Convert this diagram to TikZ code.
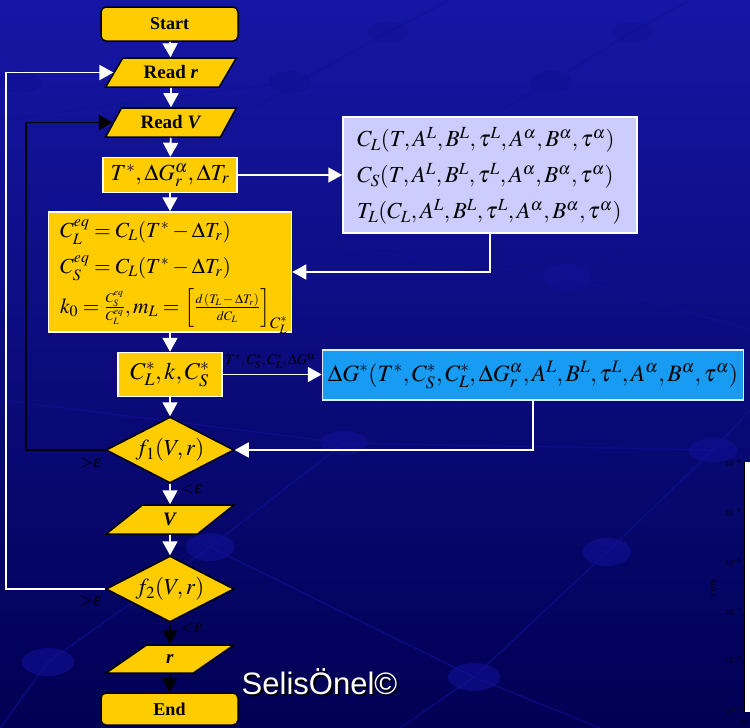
\documentclass[tikz,border=0pt]{standalone}
\usepackage{mathptmx}
\usepackage[no-math]{fontspec}
\setmainfont{Liberation Serif}
\newfontfamily\arialfont{Liberation Sans}
\usetikzlibrary{shapes.geometric,arrows.meta}
\definecolor{myyellow}{RGB}{255,204,0}
\definecolor{mylav}{RGB}{204,204,255}
\definecolor{myblue}{RGB}{24,155,242}
\definecolor{bgtop}{RGB}{22,22,165}
\definecolor{bgmid}{RGB}{8,8,122}
\definecolor{bgbot}{RGB}{0,0,84}
\definecolor{decor}{RGB}{16,16,150}
\newcommand{\smallpart}[1]{\hbox{\fontsize{13}{14}\selectfont$#1$}}
\tikzset{
  flowarrow/.style={draw=white, line width=1.8pt, -{Triangle[width=15pt,length=14pt]}},
  blackarrow/.style={draw=black, line width=1.8pt, -{Triangle[width=15pt,length=14pt]}},
  term/.style={rectangle, rounded corners=5pt, fill=myyellow, draw=black, line width=1.5pt,
    minimum width=137pt, minimum height=34pt, inner sep=0pt, font=\fontsize{18}{20}\selectfont\bfseries},
  iobox/.style={trapezium, trapezium left angle=54, trapezium right angle=126, trapezium stretches=true,
    fill=myyellow, draw=black, line width=1.5pt, minimum width=131pt, minimum height=29pt, inner sep=0pt,
    font=\fontsize{19}{20}\selectfont\bfseries},
  procbox/.style={rectangle, fill=myyellow, draw=white, line width=1.5pt, inner sep=0pt},
  decision/.style={diamond, aspect=2, fill=myyellow, draw=black, line width=1.5pt,
    minimum width=128pt, minimum height=66pt, inner sep=0pt, font=\fontsize{23}{24}\selectfont},
  mathtxt/.style={anchor=west, inner sep=0pt, font=\fontsize{21.5}{24}\selectfont},
  lavtxt/.style={anchor=west, inner sep=0pt, font=\fontsize{23}{24}\selectfont},
  epslabel/.style={inner sep=0pt, text=black, font=\fontsize{17}{18}\selectfont},
  decoell/.style={fill=decor, opacity=0.6},
  decoline/.style={draw=decor, line width=1.5pt, opacity=0.6},
}
\begin{document}
\begin{tikzpicture}[x=1pt,y=-1pt]
\useasboundingbox (0,0) rectangle (750,728);
% background
\shade[top color=bgtop, middle color=bgmid, bottom color=bgbot] (0,0) rectangle (750,728);
% decorative pattern
\draw[decoline] (250,110) -- (388,32) -- (450,0);
\draw[decoline] (500,110) -- (551,82) -- (632,32) -- (690,0);
\draw[decoline] (0,120) -- (290,82);
\draw[decoline] (200,230) -- (567,277) -- (750,330);
\draw[decoline] (567,277) -- (700,190);
\draw[decoline] (0,400) -- (344,443) -- (713,450);
\draw[decoline] (210,547) -- (344,443);
\draw[decoline] (0,728) -- (48,662) -- (210,547);
\draw[decoline] (400,728) -- (474,677) -- (607,552) -- (713,450) -- (750,410);
\draw[decoline] (210,547) -- (474,677) -- (600,728);
\fill[decoell] (388,32) ellipse (21pt and 10pt);
\fill[decoell] (632,32) ellipse (21pt and 10pt);
\fill[decoell] (551,82) ellipse (21pt and 11pt);
\fill[decoell] (290,82) ellipse (21pt and 11pt);
\fill[decoell] (20,82) ellipse (21pt and 11pt);
\fill[decoell] (72,200) ellipse (24pt and 12pt);
\fill[decoell] (567,277) ellipse (24pt and 13pt);
\fill[decoell] (344,443) ellipse (24pt and 12pt);
\fill[decoell] (713,450) ellipse (24pt and 12pt);
\fill[decoell] (210,547) ellipse (24pt and 14pt);
\fill[decoell] (607,552) ellipse (24pt and 14pt);
\fill[decoell] (48,662) ellipse (26pt and 14pt);
\fill[decoell] (474,677) ellipse (26pt and 14pt);
% partial plot at right edge
\fill[white] (744,462) rectangle (750,712);
\draw[black, line width=1pt] (744.5,462) -- (744.5,712);
\foreach \yy/\ee in {463/-4,512/-5,562/-6,612/-7,660/-8,710/-9}{
  \node[text=black, inner sep=0pt, font=\fontsize{8}{9}\selectfont] at (733,\yy) {10$^{\ee}$};
}
\node[text=black, inner sep=0pt, rotate=90, font=\fontsize{8}{9}\selectfont] at (713,588) {r (m)};
\node[text=black, inner sep=0pt, font=\fontsize{8}{9}\selectfont] at (743,723) {10};

% main nodes
\node[term] (start) at (169.5,24) {Start};
\node[iobox] (readr) at (171,72.5) {Read \textit{r}};
\node[iobox] (readv) at (171,122.5) {Read \textit{V}};
\node[procbox, minimum width=134pt, minimum height=35pt, font=\fontsize{23}{24}\selectfont] (tbox) at (170,175) {$T^*,\Delta G_r^\alpha,\Delta T_r$};
\node[procbox, minimum width=243pt, minimum height=120pt] (big) at (170,272) {};
\node[mathtxt] (eq1) at (60,232) {$C_L^{eq}=C_L(T^*-\Delta T_r)$};
\node[mathtxt] (eq2) at (60,268) {$C_S^{eq}=C_L(T^*-\Delta T_r)$};
\node[mathtxt] (eq3) at (60,311) {$k_0=\frac{\smallpart{C_S^{eq}}}{\smallpart{C_L^{eq}}},m_L=\left[\frac{\smallpart{d\,(T_L-\Delta T_r)}}{\smallpart{dC_L}}\right]_{C_L^*}$};
\node[procbox, minimum width=104pt, minimum height=44pt, font=\fontsize{24}{26}\selectfont] (cbox) at (170,374.5) {$C_L^*,k,C_S^*$};
\node[rectangle, fill=mylav, draw=white, line width=1.5pt, minimum width=294pt, minimum height=116pt, inner sep=0pt] (lav) at (490,175) {};
\node[lavtxt] (l1) at (357,140) {$C_L(T,A^L,B^L,\tau^L,A^\alpha,B^\alpha,\tau^\alpha)$};
\node[lavtxt] (l2) at (357,176) {$C_S(T,A^L,B^L,\tau^L,A^\alpha,B^\alpha,\tau^\alpha)$};
\node[lavtxt] (l3) at (357,212) {$T_L(C_L,A^L,B^L,\tau^L,A^\alpha,B^\alpha,\tau^\alpha)$};
\node[rectangle, fill=myblue, draw=white!85!myblue, line width=1.5pt, minimum width=421pt, minimum height=50pt, inner sep=0pt, font=\fontsize{23.5}{26}\selectfont] (blue) at (533,375) {$\Delta G^*(T^*,C_S^*,C_L^*,\Delta G_r^\alpha,A^L,B^L,\tau^L,A^\alpha,B^\alpha,\tau^\alpha)$};
\node[decision] (f1) at (170,450) {$f_1(V,r)$};
\node[iobox, minimum width=128pt] (vpar) at (170,519.5) {\textit{V}};
\node[decision] (f2) at (170,589) {$f_2(V,r)$};
\node[iobox, minimum width=128pt, minimum height=28pt] (rpar) at (170,659) {\textit{r}};
\node[term, minimum height=32pt] (end) at (169.5,709) {End};

% main flow
\draw[flowarrow] (start) -- (readr);
\draw[flowarrow] (readr) -- (readv);
\draw[flowarrow] (readv) -- (tbox);
\draw[flowarrow] (tbox) -- (big);
\draw[flowarrow] (big) -- (cbox);
\draw[flowarrow] (cbox) -- (f1);
\draw[flowarrow] (f1) -- (vpar);
\draw[flowarrow] (vpar) -- (f2);
\draw[blackarrow] (f2) -- (rpar);
\draw[blackarrow] (rpar) -- (end);
% side connectors
\draw[flowarrow] (tbox.east) -- (lav.west |- tbox.east);
\draw[flowarrow] (lav.south) |- (big.east);
\draw[flowarrow] (cbox.east) -- (blue.west |- cbox.east);
\node[anchor=south west, inner sep=0pt, text=black, font=\fontsize{14.5}{15}\selectfont] (cl) at (225,369) {$T^*,C_S^*,C_L^*,\Delta G^\alpha$};
\draw[flowarrow] (blue.south) |- (f1.east);
\draw[blackarrow] (f1.west) -- ++(-79,0) |- (readv.west);
\draw[flowarrow] (f2.west) -- ++(-99,0) |- (readr.west);
% condition labels
\node[epslabel] (g1) at (91,463) {${>}\varepsilon$};
\node[epslabel] (s1) at (192,489) {${<}\varepsilon$};
\node[epslabel] (g2) at (91,601) {${>}\varepsilon$};
\node[epslabel] (s2) at (192,628) {${<}\varepsilon$};
% signature
\node[inner sep=0pt, text=black, font=\arialfont\fontsize{31}{34}\selectfont] (sigs) at (321.5,683.5) {SelisÖnel©};
\node[inner sep=0pt, text=white, font=\arialfont\fontsize{31}{34}\selectfont] (sig) at (319.5,681.5) {SelisÖnel©};
\end{tikzpicture}
\end{document}
